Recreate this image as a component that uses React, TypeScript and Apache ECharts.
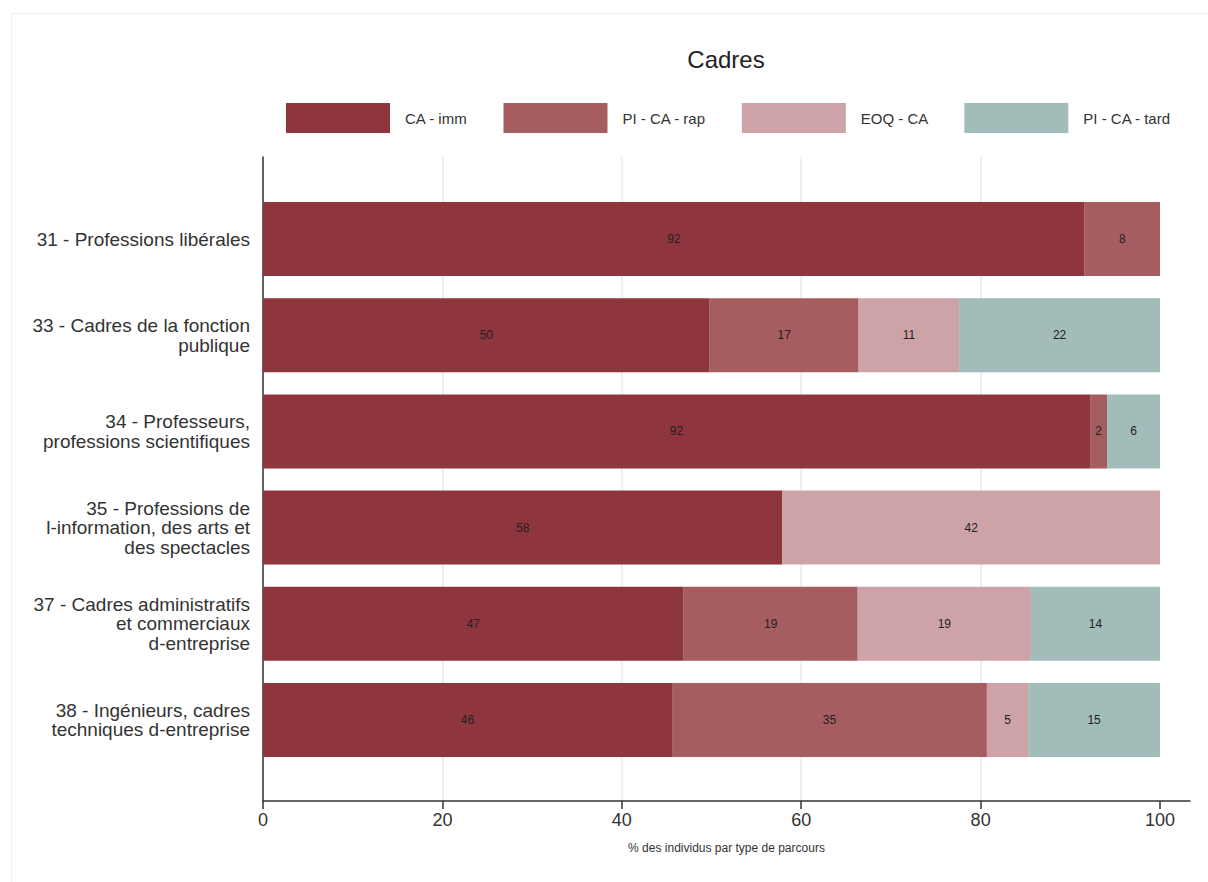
import React, { useEffect, useRef } from "react";
import * as echarts from "echarts";

const categories = [
  "31 - Professions libérales",
  "33 - Cadres de la fonction\npublique",
  "34 - Professeurs,\nprofessions scientifiques",
  "35 - Professions de\nl-information, des arts et\ndes spectacles",
  "37 - Cadres administratifs\net commerciaux\nd-entreprise",
  "38 - Ingénieurs, cadres\ntechniques d-entreprise",
];
const seriesNames = ["CA - imm", "PI - CA - rap", "EOQ - CA", "PI - CA - tard"];
const caImm = [91.6, 49.8, 92.2, 57.9, 46.9, 45.6];
const piCaRap = [8.4, 16.6, 1.9, 0, 19.4, 35.1];
const eoqCa = [0, 11.2, 0, 42.1, 19.3, 4.6];
const piCaTard = [0, 22.4, 5.9, 0, 14.4, 14.7];
const xTicks = [0, 20, 40, 60, 80, 100];
const colors = ["#8F353D", "#A55D60", "#CDA3A7", "#A2BCB9"];

const FONT = "Liberation Sans, Arial, sans-serif";

export default function App() {
  const ref = useRef<HTMLDivElement>(null);
  useEffect(() => {
    document.body.style.margin = "0";
    const chart = echarts.init(ref.current!, null, { renderer: "svg" });
    const values = [caImm, piCaRap, eoqCa, piCaTard];
    const xMax = 103.34;
    chart.setOption({
      animation: false,
      backgroundColor: "#ffffff",
      textStyle: { fontFamily: FONT },
      title: {
        text: "Cadres",
        left: 726,
        textAlign: "center",
        top: 47,
        padding: 0,
        textStyle: { fontSize: 24, fontWeight: "normal", color: "#222", fontFamily: FONT },
      },
      legend: {
        left: 286,
        top: 103,
        padding: 0,
        itemWidth: 104,
        itemHeight: 30,
        itemGap: 36,
        icon: "rect",
        data: seriesNames,
        textStyle: { fontSize: 15, color: "#333", padding: [0, 0, 0, 10], fontFamily: FONT },
      },
      graphic: [
        {
          type: "rect",
          shape: { x: 11.5, y: 13.5, width: 1210, height: 880 },
          style: { fill: "none", stroke: "#eeeeee", lineWidth: 1 },
          silent: true,
        },
      ],
      grid: [
        { left: 263, right: 18, top: 191, bottom: 114 },
        { left: 263, right: 18, top: 157, bottom: 81 },
      ],
      xAxis: [
        {
          type: "value",
          gridIndex: 0,
          min: 0,
          max: xMax,
          show: false,
        },
        {
          type: "value",
          gridIndex: 1,
          min: 0,
          max: xMax,
          interval: 20,
          axisLine: { show: true, lineStyle: { color: "#333", width: 1.5 } },
          axisTick: {
            show: true,
            length: 8,
            customValues: xTicks,
            lineStyle: { color: "#333", width: 1.5 },
          },
          axisLabel: {
            customValues: xTicks,
            fontSize: 18,
            color: "#333",
            margin: 10,
            fontFamily: FONT,
          },
          splitLine: {
            show: true,
            showMaxLine: false,
            lineStyle: { color: "#e4eeef", width: 1.5 },
          },
          name: "% des individus par type de parcours",
          nameLocation: "middle",
          nameGap: 41,
          nameTextStyle: { fontSize: 12, color: "#333", fontFamily: FONT },
        },
      ],
      yAxis: [
        {
          type: "category",
          gridIndex: 0,
          data: categories,
          inverse: true,
          axisLine: { show: false },
          axisTick: { show: false },
          axisLabel: {
            fontSize: 19,
            lineHeight: 19.5,
            color: "#333",
            margin: 13,
            align: "right",
            fontFamily: FONT,
          },
        },
        {
          type: "value",
          gridIndex: 1,
          min: 0,
          max: 1,
          axisLine: { show: true, lineStyle: { color: "#333", width: 1.5 } },
          axisTick: { show: false },
          axisLabel: { show: false },
          splitLine: { show: false },
        },
      ],
      series: seriesNames.map((name, i) => ({
        name,
        type: "bar",
        stack: "total",
        xAxisIndex: 0,
        yAxisIndex: 0,
        barWidth: 74,
        data: values[i],
        itemStyle: { color: colors[i] },
        label: {
          show: true,
          position: "inside",
          fontSize: 12,
          color: "#222",
          fontFamily: FONT,
          formatter: (p: any) => (p.value > 0 ? String(Math.round(p.value)) : ""),
        },
      })),
    });
    return () => chart.dispose();
  }, []);
  return <div ref={ref} style={{ width: 1208, height: 882 }} />;
}
